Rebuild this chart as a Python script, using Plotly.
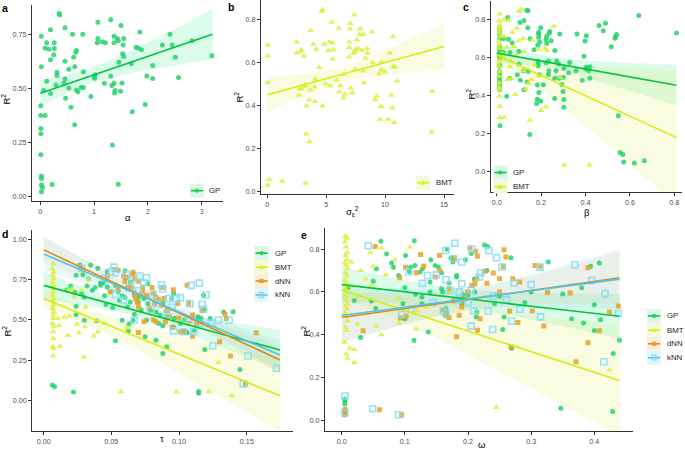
import numpy as np
import plotly.graph_objects as go

W, H = 685, 451

# ---------------- data ----------------
# panel a: GP, R2 vs alpha
a_gp = [(0.36,0.84),(0.35,0.845),(1.31,0.816),(1.07,0.805),(1.50,0.79),(0.19,0.77),(0.46,0.78),(1.85,0.76),
        (2.41,0.75),(0.02,0.74),(0.60,0.75),(0.79,0.75),(1.37,0.74),(1.07,0.73),(1.43,0.73),(1.55,0.73),
        (2.82,0.72),(0.12,0.71),(0.26,0.71),(1.06,0.71),(1.15,0.715),(1.21,0.71),(1.37,0.71),(1.45,0.72),
        (2.45,0.70),(2.27,0.70),(1.54,0.70),(0.09,0.686),(0.16,0.68),(0.26,0.684),(1.78,0.69),(1.82,0.686),
        (1.88,0.678),(0.67,0.675),(0.66,0.667),(0.25,0.655),(1.53,0.66),(1.55,0.647),(0.62,0.644),(2.51,0.643),
        (0.19,0.632),(0.46,0.625),(1.46,0.62),(1.69,0.614),(2.09,0.605),(3.19,0.65),(0.02,0.60),(0.64,0.60),
        (0.53,0.588),(0.80,0.577),(0.31,0.574),(0.31,0.559),(1.98,0.557),(1.31,0.556),(1.02,0.563),(1.00,0.553),
        (2.57,0.55),(2.09,0.545),(1.01,0.547),(0.46,0.543),(0.12,0.533),(0.44,0.525),(0.29,0.516),(1.19,0.524),
        (1.37,0.524),(1.52,0.525),(1.33,0.513),(0.53,0.502),(0.76,0.504),(0.80,0.504),(0.67,0.493),(0.70,0.485),
        (0.06,0.49),(1.49,0.487),(1.39,0.49),(1.38,0.479),(0.19,0.476),(0.47,0.455),(0.94,0.462),(0.57,0.413),
        (1.95,0.426),(0.01,0.42),(1.71,0.392),(0.01,0.375),(0.09,0.375),(0.64,0.332),(0.01,0.315),(0.01,0.291),
        (1.34,0.239),(0.01,0.194),(0.02,0.096),(0.02,0.084),(0.02,0.054),(0.04,0.043),(0.22,0.057),(1.45,0.058),
        (0.02,0.023)]

# panel b: BMT, R2 vs sigma_eps^2
b_bmt = [(4.70,0.849),(4.61,0.839),(7.38,0.823),(5.46,0.789),(7.04,0.783),(6.05,0.761),(3.68,0.751),(7.89,0.758),
         (7.02,0.758),(10.69,0.723),(7.84,0.732),(8.15,0.732),(7.58,0.709),(8.91,0.744),(2.49,0.697),(5.26,0.697),
         (6.96,0.697),(3.90,0.687),(4.84,0.687),(5.54,0.692),(0.03,0.683),(6.96,0.672),(8.49,0.667),(7.72,0.667),
         (7.47,0.663),(4.16,0.663),(2.91,0.661),(8.01,0.659),(5.18,0.658),(5.63,0.661),(7.44,0.653),(2.49,0.646),
         (2.83,0.653),(7.33,0.644),(10.41,0.646),(8.49,0.646),(0.03,0.632),(3.11,0.632),(6.96,0.627),(5.54,0.618),
         (8.32,0.622),(8.94,0.602),(9.70,0.604),(4.41,0.579),(10.69,0.581),(10.83,0.581),(7.47,0.571),(9.67,0.567),
         (8.12,0.562),(9.96,0.559),(9.48,0.548),(6.48,0.545),(11.0,0.517),(4.07,0.525),(5.88,0.52),(4.95,0.503),
         (0.03,0.508),(8.20,0.508),(3.22,0.500),(4.02,0.488),(3.20,0.488),(5.35,0.493),(6.20,0.494),(2.77,0.479),
         (2.88,0.479),(3.65,0.474),(7.07,0.483),(6.11,0.465),(7.21,0.46),(6.59,0.454),(2.69,0.449),(10.52,0.449),
         (6.45,0.437),(9.28,0.445),(9.14,0.429),(14.0,0.468),(3.56,0.428),(4.05,0.419),(3.34,0.40),(4.70,0.401),
         (9.67,0.397),(10.61,0.391),(9.59,0.338),(10.27,0.338),(10.78,0.323),(13.95,0.278),(3.31,0.269),(3.59,0.233),
         (0.17,0.057),(0.03,0.031),(1.27,0.049),(3.25,0.040)]

# panel c: GP and BMT, R2 vs beta
c_gp = [(0.141,0.844),(0.136,0.847),(0.64,0.819),(0.05,0.809),(0.123,0.793),(0.105,0.783),(0.49,0.779),(0.461,0.767),
        (0.14,0.755),(0.198,0.755),(0.48,0.739),(0.239,0.736),(0.236,0.726),(0.189,0.732),(0.189,0.722),(0.284,0.722),
        (0.362,0.722),(0.404,0.713),(0.536,0.711),(0.54,0.72),(0.533,0.70),(0.81,0.727),(0.225,0.709),(0.189,0.704),
        (0.053,0.695),(0.03,0.697),(0.15,0.697),(0.222,0.694),(0.245,0.687),(0.398,0.685),(0.516,0.655),(0.194,0.68),
        (0.185,0.663),(0.225,0.673),(0.07,0.675),(0.168,0.64),(0.262,0.636),(0.10,0.63),(0.03,0.627),(0.06,0.625),
        (0.393,0.605),(0.27,0.58),(0.234,0.58),(0.186,0.58),(0.187,0.565),(0.222,0.572),(0.329,0.573),(0.279,0.565),
        (0.10,0.565),(0.186,0.555),(0.404,0.548),(0.40,0.539),(0.42,0.55),(0.415,0.53),(0.303,0.542),(0.357,0.53),
        (0.267,0.53),(0.235,0.53),(0.12,0.53),(0.142,0.527),(0.324,0.519),(0.093,0.509),(0.192,0.509),(0.233,0.51),
        (0.30,0.495),(0.42,0.49),(0.261,0.49),(0.282,0.49),(0.059,0.49),(0.107,0.48),(0.386,0.48),(0.138,0.47),
        (0.293,0.457),(0.21,0.456),(0.183,0.455),(0.19,0.415),(0.299,0.42),(0.123,0.43),(0.045,0.395),(0.261,0.383),
        (0.302,0.378),(0.183,0.38),(0.198,0.37),(0.18,0.357),(0.302,0.338),(0.548,0.293),(0.015,0.24),(0.149,0.195),
        (0.556,0.10),(0.568,0.09),(0.572,0.05),(0.62,0.045),(0.665,0.057),
        (0.013,0.753),(0.013,0.735),(0.013,0.718),(0.013,0.70),(0.013,0.657),(0.013,0.64),(0.013,0.622),(0.013,0.605),
        (0.013,0.596),(0.013,0.561),(0.013,0.553),(0.013,0.526),(0.013,0.509),(0.013,0.491),(0.013,0.474),
        (0.013,0.457),(0.013,0.444),(0.013,0.43)]
c_bmt = [(0.013,0.828),(0.011,0.79),(0.014,0.77),(0.012,0.758),(0.013,0.744),(0.011,0.727),(0.014,0.709),
         (0.012,0.683),(0.013,0.666),(0.011,0.648),(0.014,0.613),(0.012,0.587),(0.013,0.57),(0.011,0.552),
         (0.014,0.526),(0.012,0.50),(0.013,0.465),(0.011,0.444),(0.014,0.43),(0.012,0.395),(0.013,0.343),
         (0.013,0.282),(0.11,0.852),(0.10,0.84),(0.033,0.80),(0.053,0.793),(0.09,0.753),(0.258,0.763),(0.033,0.709),
         (0.10,0.687),(0.123,0.63),(0.078,0.657),(0.047,0.652),(0.09,0.613),(0.19,0.64),(0.218,0.648),(0.227,0.636),
         (0.037,0.59),(0.065,0.579),(0.12,0.53),(0.144,0.465),(0.158,0.483),(0.048,0.483),(0.065,0.488),
         (0.084,0.404),(0.132,0.434),(0.222,0.34),(0.20,0.32),(0.15,0.27),(0.033,0.282),(0.305,0.035),(0.417,0.035),
         (0.287,0.495),(0.188,0.5),(0.07,0.73),(0.16,0.69),(0.12,0.70),(0.025,0.62),(0.06,0.55),(0.17,0.56)]

# panel d: R2 vs tau
d_gp = [(0.0266,0.84),(0.0347,0.84),(0.04,0.82),(0.047,0.80),(0.06,0.805),(0.024,0.776),(0.029,0.78),(0.033,0.753),
        (0.032,0.71),(0.020,0.708),(0.017,0.685),(0.023,0.669),(0.028,0.663),(0.036,0.683),(0.042,0.714),
        (0.042,0.728),(0.047,0.704),(0.050,0.675),(0.053,0.714),(0.055,0.675),(0.058,0.65),(0.060,0.638),
        (0.064,0.611),(0.067,0.667),(0.070,0.64),(0.074,0.632),(0.077,0.60),(0.079,0.556),(0.083,0.549),
        (0.088,0.603),(0.088,0.463),(0.091,0.519),(0.0966,0.51),(0.101,0.477),(0.105,0.426),(0.111,0.436),
        (0.114,0.52),(0.118,0.652),(0.119,0.566),(0.133,0.549),(0.024,0.584),(0.030,0.498),(0.024,0.533),
        (0.046,0.595),(0.051,0.576),(0.058,0.498),(0.053,0.37),(0.063,0.475),(0.066,0.498),(0.067,0.535),
        (0.075,0.395),(0.083,0.374),(0.088,0.292),(0.091,0.333),(0.119,0.317),(0.14,0.55),(0.145,0.193),
        (0.1145,0.056),(0.1145,0.045),(0.0064,0.097),(0.008,0.086),(0.022,0.053),(0.039,0.494),(0.0626,0.432),
        (0.076,0.498),(0.085,0.477),(0.0958,0.457),(0.106,0.42),(0.123,0.508),(0.064,0.735),(0.077,0.724),
        (0.096,0.663),(0.0946,0.632),(0.116,0.51),(0.104,0.5),(0.07,0.61),(0.056,0.62),(0.062,0.58),(0.044,0.73),
        (0.038,0.70),(0.072,0.56),(0.086,0.53),(0.03,0.64),(0.045,0.65)]
d_bmt = [(0.0071,0.848),(0.0065,0.817),(0.0074,0.796),(0.0068,0.776),(0.0072,0.755),(0.0066,0.734),(0.0073,0.714),
         (0.0069,0.693),(0.0071,0.673),(0.0065,0.652),(0.0074,0.632),(0.0068,0.611),(0.0072,0.590),(0.0066,0.57),
         (0.0073,0.549),(0.0069,0.529),(0.0071,0.508),(0.0065,0.477),(0.0074,0.457),(0.0068,0.426),(0.0072,0.385),
         (0.0066,0.333),(0.0073,0.323),(0.0069,0.278),
         (0.0152,0.516),(0.018,0.405),(0.0113,0.463),(0.0103,0.508),(0.0246,0.473),(0.0259,0.422),(0.0305,0.457),
         (0.037,0.40),(0.040,0.426),(0.0387,0.494),(0.0616,0.45),(0.031,0.58),(0.033,0.75),(0.019,0.522),
         (0.0226,0.64),(0.021,0.693),(0.018,0.683),(0.028,0.683),(0.0296,0.27),(0.057,0.055),(0.098,0.055),
         (0.122,0.055),(0.139,0.031),(0.129,0.235),(0.012,0.337),(0.045,0.477)]
d_dnn = [(0.027,0.823),(0.047,0.774),(0.052,0.813),(0.055,0.807),(0.059,0.772),(0.061,0.765),(0.066,0.796),
         (0.066,0.782),(0.067,0.755),(0.07,0.739),(0.065,0.704),(0.073,0.704),(0.073,0.683),(0.067,0.652),
         (0.068,0.632),(0.069,0.611),(0.070,0.58),(0.076,0.652),(0.080,0.70),(0.081,0.667),(0.083,0.638),
         (0.082,0.601),(0.085,0.626),(0.089,0.632),(0.091,0.556),(0.0958,0.687),(0.099,0.601),(0.106,0.714),
         (0.107,0.601),(0.107,0.477),(0.101,0.426),(0.104,0.43),(0.11,0.399),(0.117,0.556),(0.134,0.535),
         (0.135,0.508),(0.130,0.364),(0.138,0.276),(0.149,0.101),(0.157,0.42),(0.07,0.422),(0.081,0.5),(0.083,0.488),
         (0.074,0.488),(0.090,0.488),(0.095,0.453),(0.055,0.698),(0.049,0.673),(0.062,0.70),(0.078,0.575),
         (0.087,0.59),(0.093,0.52),(0.10,0.51),(0.113,0.47),(0.06,0.74),(0.072,0.66),(0.11,0.53),(0.088,0.70)]
d_knn = [(0.052,0.827),(0.05,0.80),(0.053,0.792),(0.061,0.782),(0.071,0.772),(0.076,0.761),(0.066,0.749),(0.074,0.73),
         (0.087,0.718),(0.088,0.693),(0.109,0.714),(0.115,0.728),(0.053,0.658),(0.07,0.681),(0.067,0.498),
         (0.092,0.632),(0.098,0.632),(0.101,0.638),(0.12,0.656),(0.117,0.595),(0.118,0.566),(0.096,0.432),
         (0.103,0.426),(0.111,0.426),(0.124,0.481),(0.129,0.498),(0.137,0.498),(0.125,0.34),(0.151,0.276),
         (0.1475,0.103),(0.172,0.20),(0.107,0.498),(0.079,0.564),(0.059,0.621),(0.081,0.652),(0.091,0.539),
         (0.115,0.477),(0.028,0.82),(0.045,0.76),(0.063,0.70),(0.084,0.60),(0.095,0.58),(0.108,0.60)]

# panel e: R2 vs omega
e_gp = [(0.062,0.837),(0.115,0.84),(0.071,0.778),(0.101,0.77),(0.079,0.735),(0.055,0.708),(0.082,0.716),(0.09,0.677),
        (0.107,0.696),(0.109,0.716),(0.116,0.724),(0.124,0.693),(0.128,0.708),(0.141,0.75),(0.148,0.724),
        (0.153,0.717),(0.167,0.80),(0.173,0.76),(0.196,0.75),(0.231,0.812),(0.268,0.76),(0.327,0.74),(0.394,0.72),
        (0.408,0.735),(0.03,0.387),(0.047,0.558),(0.054,0.522),(0.097,0.545),(0.10,0.475),(0.1145,0.374),
        (0.117,0.589),(0.127,0.576),(0.127,0.545),(0.137,0.413),(0.14,0.646),(0.158,0.615),(0.16,0.60),(0.165,0.522),
        (0.166,0.506),(0.164,0.49),(0.17,0.642),(0.182,0.67),(0.182,0.677),(0.19,0.545),(0.192,0.587),(0.20,0.585),
        (0.211,0.60),(0.214,0.506),(0.213,0.483),(0.242,0.545),(0.257,0.483),(0.255,0.424),(0.269,0.336),
        (0.364,0.475),(0.383,0.455),(0.40,0.54),(0.40,0.42),(0.43,0.312),(0.44,0.374),(0.005,0.098),(0.005,0.087),
        (0.005,0.075),(0.005,0.048),(0.005,0.025),(0.347,0.056),(0.429,0.04),(0.226,0.82),(0.176,0.74),
        (0.205,0.78),(0.158,0.69),(0.10,0.62),(0.23,0.70),(0.25,0.58),(0.30,0.60),(0.29,0.55),(0.21,0.66),
        (0.18,0.56),(0.14,0.60),(0.02,0.56),(0.01,0.62),(0.05,0.65),(0.35,0.59),(0.41,0.47),(0.38,0.62)]
e_bmt = [(0.006,0.86),(0.008,0.85),(0.005,0.835),(0.007,0.81),(0.009,0.785),(0.006,0.77),(0.008,0.75),(0.005,0.735),
         (0.007,0.725),(0.009,0.71),(0.006,0.69),(0.008,0.675),(0.005,0.655),(0.007,0.64),(0.009,0.63),(0.006,0.615),
         (0.008,0.60),(0.005,0.58),(0.007,0.56),(0.009,0.545),(0.006,0.535),(0.008,0.52),(0.005,0.50),(0.007,0.485),
         (0.009,0.465),(0.006,0.435),(0.008,0.42),(0.005,0.365),(0.007,0.31),(0.009,0.29),
         (0.045,0.783),(0.063,0.806),(0.084,0.75),(0.108,0.81),(0.047,0.63),(0.024,0.576),(0.055,0.44),(0.063,0.40),
         (0.118,0.426),(0.091,0.455),(0.119,0.511),(0.245,0.059),(0.424,0.235),(0.013,0.336),(0.02,0.33),
         (0.02,0.27),(0.03,0.70),(0.038,0.66),(0.015,0.74),(0.05,0.72),(0.07,0.68),(0.17,0.60),(0.135,0.53),
         (0.025,0.45),(0.04,0.50),(0.09,0.57)]
e_dnn = [(0.053,0.812),(0.101,0.716),(0.125,0.775),(0.155,0.77),(0.148,0.67),(0.179,0.755),(0.203,0.806),(0.212,0.79),
         (0.215,0.767),(0.214,0.662),(0.206,0.63),(0.226,0.697),(0.24,0.688),(0.257,0.797),(0.26,0.763),(0.256,0.719),
         (0.25,0.662),(0.271,0.662),(0.282,0.646),(0.306,0.724),(0.315,0.72),(0.326,0.597),(0.32,0.44),(0.279,0.457),
         (0.266,0.511),(0.268,0.343),(0.302,0.511),(0.362,0.595),(0.371,0.273),(0.39,0.713),(0.39,0.362),
         (0.408,0.418),(0.424,0.506),(0.438,0.534),(0.034,0.418),(0.093,0.478),(0.102,0.486),(0.16,0.517),
         (0.166,0.499),(0.177,0.558),(0.182,0.39),(0.194,0.564),(0.186,0.491),(0.219,0.475),(0.215,0.421),
         (0.005,0.033),(0.005,0.025),(0.06,0.048),(0.095,0.025),(0.092,0.666),(0.17,0.615),(0.211,0.638),(0.20,0.60),
         (0.188,0.57),(0.13,0.72),(0.155,0.70),(0.23,0.64),(0.25,0.60),(0.118,0.69),(0.005,0.05),(0.19,0.53),
         (0.17,0.48)]
e_knn = [(0.042,0.816),(0.165,0.794),(0.179,0.828),(0.206,0.80),(0.233,0.794),(0.245,0.76),(0.254,0.716),(0.177,0.755),
         (0.106,0.693),(0.136,0.677),(0.165,0.657),(0.19,0.638),(0.172,0.607),(0.273,0.642),(0.30,0.634),(0.314,0.716),
         (0.369,0.727),(0.396,0.654),(0.417,0.592),(0.438,0.499),(0.415,0.273),(0.282,0.519),(0.261,0.564),
         (0.209,0.511),(0.232,0.511),(0.205,0.44),(0.239,0.424),(0.269,0.463),(0.315,0.483),(0.095,0.495),
         (0.161,0.511),(0.185,0.564),(0.005,0.113),(0.005,0.035),(0.049,0.053),(0.09,0.025),(0.128,0.64),(0.15,0.68),
         (0.22,0.69),(0.205,0.61),(0.24,0.58),(0.186,0.60),(0.218,0.67),(0.11,0.52),(0.145,0.55),(0.19,0.74),
         (0.20,0.55),(0.165,0.50)]

# fitted linear trends: x-range and fitted R2 at both ends
fit_range = {"a": (0, 3.2), "b": (0, 15), "c": (0, 0.81), "d": (0, 0.1746), "e": (0, 0.44)}
fit_ends = {
    "a": {"GP": (0.478, 0.750)},
    "b": {"BMT": (0.452, 0.676)},
    "c": {"GP": (0.622, 0.453), "BMT": (0.613, 0.178)},
    "d": {"GP": (0.714, 0.313), "BMT": (0.632, 0.029), "dNN": (0.934, 0.251), "kNN": (0.909, 0.282)},
    "e": {"GP": (0.634, 0.486), "BMT": (0.610, 0.185), "dNN": (0.480, 0.666), "kNN": (0.490, 0.660)},
}

# tick values / labels
ticks = {
    "a": ([0, 1, 2, 3], ["0", "1", "2", "3"], [0, 0.25, 0.5, 0.75], ["0.00", "0.25", "0.50", "0.75"]),
    "b": ([0, 5, 10, 15], ["0", "5", "10", "15"], [0, 0.2, 0.4, 0.6, 0.8], ["0.0", "0.2", "0.4", "0.6", "0.8"]),
    "c": ([0, 0.2, 0.4, 0.6, 0.8], ["0.0", "0.2", "0.4", "0.6", "0.8"], [0, 0.2, 0.4, 0.6, 0.8],
          ["0.0", "0.2", "0.4", "0.6", "0.8"]),
    "d": ([0, 0.05, 0.1, 0.15], ["0.00", "0.05", "0.10", "0.15"], [0, 0.25, 0.5, 0.75, 1.0],
          ["0.00", "0.25", "0.50", "0.75", "1.00"]),
    "e": ([0, 0.1, 0.2, 0.3, 0.4], ["0.0", "0.1", "0.2", "0.3", "0.4"], [0, 0.2, 0.4, 0.6, 0.8],
          ["0.0", "0.2", "0.4", "0.6", "0.8"]),
}
xtitles = {"a": "α", "b": "σ<sub>ε</sub><sup>2</sup>", "c": "β", "d": "τ", "e": "ω"}
series = {
    "a": [("GP", a_gp)],
    "b": [("BMT", b_bmt)],
    "c": [("GP", c_gp), ("BMT", c_bmt)],
    "d": [("GP", d_gp), ("BMT", d_bmt), ("dNN", d_dnn), ("kNN", d_knn)],
    "e": [("GP", e_gp), ("BMT", e_bmt), ("dNN", e_dnn), ("kNN", e_knn)],
}

# ---------------- styles / layout ----------------
STY = {
    "GP":  dict(mc="#25D36B", lc="#00C43C", band="rgba(0,225,110,0.14)", key="#DDF7E6", sym="circle", size=5),
    "BMT": dict(mc="#DCEF3A", lc="#D5EE10", band="rgba(225,240,90,0.18)", key="#F4F9DA", sym="triangle-up", size=6),
    "dNN": dict(mc="#E8A126", lc="#E08A0E", band="rgba(240,175,70,0.13)", key="#FBEEDC", sym="square", size=5),
    "kNN": dict(mc="#84DDF5", lc="#4DC5EE", band="rgba(100,210,245,0.13)", key="#E2F5FA", sym="square-open", size=6),
}
# pixel geometry: plot-area extents and two calibration ticks per axis
GEOM = {
    "a": dict(xpx=(32, 222.7), ypx=(5, 202.3), xcal=(0, 40.3, 3, 201.7), ycal=(0.75, 34.3, 0.0, 197.7)),
    "b": dict(xpx=(261, 453.7), ypx=(0.5, 195), xcal=(0, 267.3, 15, 444), ycal=(0.8, 20, 0.0, 192.7)),
    "c": dict(xpx=(490.7, 682), ypx=(1, 193.3), xcal=(0, 496.7, 0.8, 674.3), ycal=(0.8, 19.3, 0.0, 172.3)),
    "d": dict(xpx=(32.3, 292.7), ypx=(231, 433.3), xcal=(0, 43.7, 0.15, 246.7), ycal=(1.0, 240.3, 0.0, 402.3)),
    "e": dict(xpx=(325, 633), ypx=(229, 433.3), xcal=(0, 341.7, 0.4, 594.3), ycal=(0.8, 250.3, 0.0, 422)),
}
FONT = "Liberation Sans, Arial, sans-serif"


def px(x):
    return x / W


def py(y):
    return 1 - y / H


def rng(p0, p1, cal):
    v1, q1, v2, q2 = cal
    s = (q2 - q1) / (v2 - v1)
    return [v1 + (p0 - q1) / s, v1 + (p1 - q1) / s]


def trend_band(x, y, xr, ends, npts=100):
    """Straight trend through the read end values, with a 95% linear-model confidence band
    whose width follows the points' spread around that trend."""
    x = np.asarray(x, float)
    y = np.asarray(y, float)
    n = len(x)
    b1 = (ends[1] - ends[0]) / (xr[1] - xr[0])
    b0 = ends[0] - b1 * xr[0]
    xb = x.mean()
    sxx = ((x - xb) ** 2).sum()
    s = np.sqrt(((y - b0 - b1 * x) ** 2).sum() / (n - 2))
    df = n - 2
    z = 1.959964
    t = z + (z ** 3 + z) / (4 * df) + (5 * z ** 5 + 16 * z ** 3 + 3 * z) / (96 * df ** 2)
    xs = np.linspace(xr[0], xr[1], npts)
    yh = b0 + b1 * xs
    se = s * np.sqrt(1 / n + (xs - xb) ** 2 / sxx)
    return xs, yh, yh - t * se, yh + t * se


fig = go.Figure()
layout = dict(width=W, height=H, margin=dict(l=0, r=0, t=0, b=0, pad=0), plot_bgcolor="white",
              paper_bgcolor="white", showlegend=False)
annotations = []
shapes = []

for k, p in enumerate(["a", "b", "c", "d", "e"], start=1):
    g = GEOM[p]
    xa = "x" if k == 1 else f"x{k}"
    ya = "y" if k == 1 else f"y{k}"
    xr = rng(g["xpx"][0], g["xpx"][1], g["xcal"])
    yr = rng(g["ypx"][1], g["ypx"][0], g["ycal"])
    txv, txt, tyv, tyt = ticks[p]
    common = dict(showline=True, linecolor="#333333", linewidth=1, ticks="outside", ticklen=3,
                  tickcolor="#333333", tickwidth=1, showgrid=False, zeroline=False,
                  tickfont=dict(family=FONT, size=7.2, color="#4D4D4D"), fixedrange=True)
    layout["xaxis" if k == 1 else f"xaxis{k}"] = dict(
        domain=[px(g["xpx"][0]), px(g["xpx"][1])], range=xr, anchor=ya,
        tickvals=txv, ticktext=txt, **common)
    layout["yaxis" if k == 1 else f"yaxis{k}"] = dict(
        domain=[py(g["ypx"][1]), py(g["ypx"][0])], range=yr, anchor=xa,
        tickvals=tyv, ticktext=tyt, **common)

    fits = []
    for name, pts in series[p]:
        xs_, ys_ = zip(*pts)
        fits.append((name, xs_, ys_, trend_band(xs_, ys_, fit_range[p], fit_ends[p][name])))
    # ribbons
    for name, xs_, ys_, (fx, fy, lo, hi) in fits:
        fig.add_trace(go.Scatter(x=np.concatenate([fx, fx[::-1]]), y=np.concatenate([hi, lo[::-1]]),
                                 fill="toself", fillcolor=STY[name]["band"], line=dict(width=0),
                                 mode="lines", hoverinfo="skip", xaxis=xa, yaxis=ya))
    # points
    for name, xs_, ys_, _ in fits:
        st = STY[name]
        mk = dict(symbol=st["sym"], size=st["size"], color=st["mc"], opacity=0.85)
        if st["sym"] == "square-open":
            mk["line"] = dict(width=1.6, color=st["mc"])
        else:
            mk["line"] = dict(width=0)
        fig.add_trace(go.Scatter(x=xs_, y=ys_, mode="markers", marker=mk, name=name,
                                 xaxis=xa, yaxis=ya, hoverinfo="skip"))
    # fitted lines
    for name, xs_, ys_, (fx, fy, lo, hi) in fits:
        fig.add_trace(go.Scatter(x=fx, y=fy, mode="lines", line=dict(color=STY[name]["lc"], width=1.6),
                                 name=name, xaxis=xa, yaxis=ya, hoverinfo="skip"))


# ---------------- titles and panel letters ----------------
def ann(x, y, text, size=9, angle=0, bold=False, xanchor="center", color="black"):
    annotations.append(dict(x=px(x), y=py(y), xref="paper", yref="paper", text=f"<b>{text}</b>" if bold else text,
                            showarrow=False, textangle=angle, xanchor=xanchor, yanchor="middle",
                            font=dict(family=FONT, size=size, color=color)))


XT = {"a": (127.5, 218), "b": (352, 212), "c": (586.5, 213.5), "d": (162.3, 440.5), "e": (481.5, 446)}
YT = {"a": (6, 100), "b": (239, 97), "c": (471, 95), "d": (7, 333), "e": (306, 333)}
LT = {"a": (4.5, 8), "b": (231, 7), "c": (465.5, 7), "d": (4.5, 235), "e": (303.5, 236)}
for p in "abcde":
    ann(*XT[p], xtitles[p], size=9.5)
    ann(*YT[p], "R<sup>2</sup>", size=9.5, angle=-90)
    ann(*LT[p], p, size=10.5, bold=True)


# ---------------- legends (keys with band fill, line and point glyph) ----------------
def key(x0, yc, name, tx):
    st = STY[name]
    shapes.append(dict(type="rect", xref="paper", yref="paper", x0=px(x0), x1=px(x0 + 14),
                       y0=py(yc + 7), y1=py(yc - 7), fillcolor=st["key"], line=dict(width=0), layer="above"))
    shapes.append(dict(type="line", xref="paper", yref="paper", x0=px(x0 + 1), x1=px(x0 + 13),
                       y0=py(yc), y1=py(yc), line=dict(color=st["lc"], width=1.6), layer="above"))
    cx, r = x0 + 7, 2.1
    if st["sym"] == "circle":
        shapes.append(dict(type="circle", xref="paper", yref="paper", x0=px(cx - r), x1=px(cx + r),
                           y0=py(yc + r), y1=py(yc - r), fillcolor=st["mc"], line=dict(width=0), layer="above"))
    elif st["sym"] == "triangle-up":
        path = (f"M {px(cx - 2.6)},{py(yc + 2)} L {px(cx + 2.6)},{py(yc + 2)} "
                f"L {px(cx)},{py(yc - 2.6)} Z")
        shapes.append(dict(type="path", xref="paper", yref="paper", path=path, fillcolor=st["mc"],
                           line=dict(width=0), layer="above"))
    elif st["sym"] == "square":
        shapes.append(dict(type="rect", xref="paper", yref="paper", x0=px(cx - r), x1=px(cx + r),
                           y0=py(yc + r), y1=py(yc - r), fillcolor=st["mc"], line=dict(width=0), layer="above"))
    else:
        shapes.append(dict(type="rect", xref="paper", yref="paper", x0=px(cx - 2.3), x1=px(cx + 2.3),
                           y0=py(yc + 2.3), y1=py(yc - 2.3), fillcolor="rgba(0,0,0,0)",
                           line=dict(width=1.2, color=st["mc"]), layer="above"))
    ann(tx, yc, name, size=7.8, xanchor="left", color="#1a1a1a")


legend_pos = {
    "a": (190, [191.5], 207),
    "b": (416, [183.5], 433.5),
    "c": (493.5, [173.3, 187.5], 511),
    "d": (254.5, [254.3, 268.3, 282.3, 296.3], 272.5),
    "e": (647, [317.3, 331.5, 345.3, 359.3], 664.5),
}
for p, (x0, ycs, tx) in legend_pos.items():
    for (name, _), yc in zip(series[p], ycs):
        key(x0, yc, name, tx)

layout["annotations"] = annotations
layout["shapes"] = shapes
fig.update_layout(**layout)
fig.write_html("out.html", config={"displayModeBar": False, "staticPlot": True},
               post_script="document.body.style.margin='0px';document.body.style.padding='0px';"
                           "document.body.style.overflow='hidden';")
